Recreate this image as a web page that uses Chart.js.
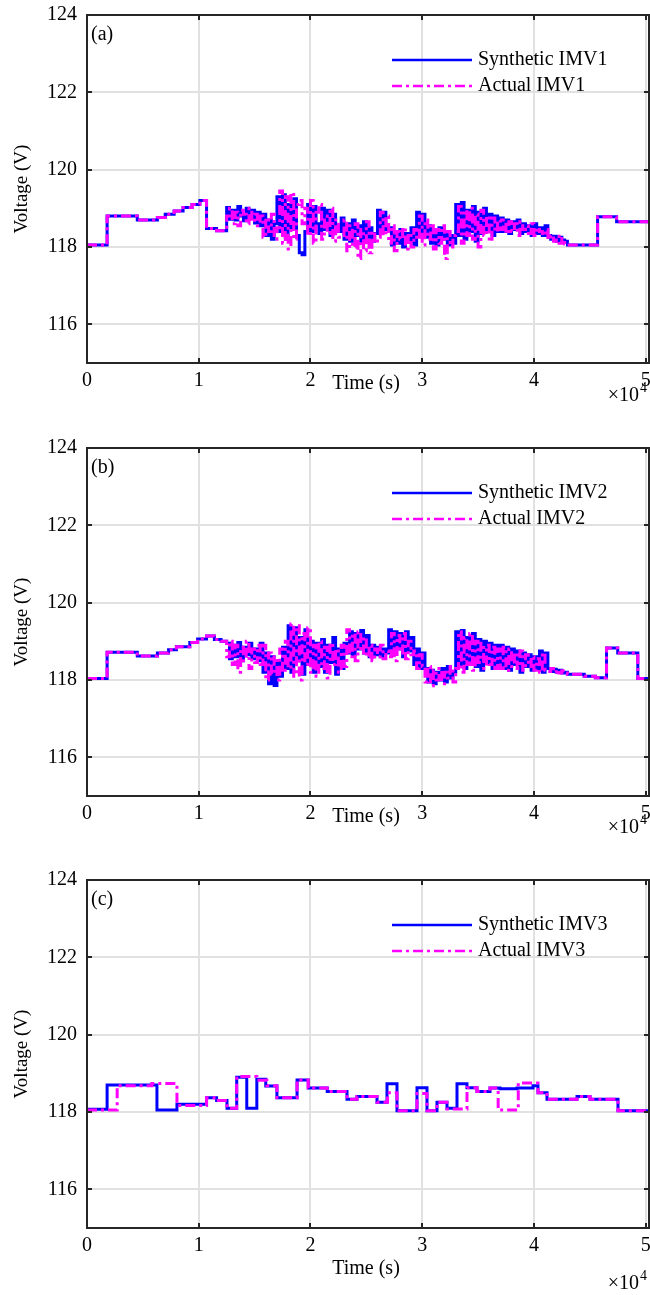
<!DOCTYPE html>
<html><head><meta charset="utf-8">
<script src="https://cdn.jsdelivr.net/npm/chart.js@4/dist/chart.umd.min.js"></script>
<style>
html,body{margin:0;padding:0;background:#fff;}
#wrap{position:relative;width:650px;height:1295px;background:#fff;}
canvas{position:absolute;left:0;}
</style></head><body>
<div id="wrap">
<canvas id="ca" width="650" height="431" style="top:0px"></canvas>
<canvas id="cb" width="650" height="431" style="top:433px"></canvas>
<canvas id="cc" width="650" height="430" style="top:865px"></canvas>
</div>
<script>
// ---------- axis ticks ----------
const xTickValues = [0, 10000, 20000, 30000, 40000, 50000];
const xTickLabels = ['0', '1', '2', '3', '4', '5'];
const yTickValues = [116, 118, 120, 122, 124];
const xMax = 50300;
const yMin = 115, yMax = 124;

// ---------- panel (a) ----------
const preTimesA = [0, 1800, 4500, 6300, 7000, 7800, 8600, 9400, 10100, 10700, 11600];
const preValsA  = [118.05, 118.80, 118.70, 118.76, 118.85, 118.93, 119.02, 119.10, 119.20, 118.48, 118.42];
const noisyStartA = 12500;
const sampleStepA = 250;
const synNoisyA = [
 119.02,118.72,118.95,118.70,119.05,118.80,118.68,119.00,118.75,118.95,118.62,118.90,
 118.55,118.85,118.30,118.70,118.20,118.60,
 119.30,118.40,119.35,118.25,119.10,118.50,119.25,118.30,
 117.85,117.80,118.40,
 119.10,118.40,119.05,118.60,118.35,119.00,118.45,118.95,118.30,118.85,118.55,118.40,
 118.75,118.20,118.60,118.15,118.70,118.30,118.55,118.10,118.65,118.25,118.50,118.15,118.35,
 118.95,118.40,118.90,118.45,
 118.50,118.05,118.40,118.10,118.45,118.00,118.35,118.15,118.50,118.05,
 118.90,118.30,118.85,118.25,
 118.55,118.10,118.45,118.05,118.50,118.20,118.40,118.05,118.30,118.10,
 119.10,118.30,119.15,118.20,118.95,118.40,119.05,118.15,118.90,118.35,119.00,118.45,118.85,118.30,118.80,118.40,
 118.75,118.40,118.70,118.35,118.65,118.45,118.70,118.35,118.60,118.40,118.55,118.30,118.60,118.35,118.50,118.30,118.55,
 118.30,118.20,118.28,118.15,118.25,118.18,118.15
];
const actNoisyA = [
 118.80,119.00,118.60,118.90,118.55,118.95,118.85,118.60,119.00,118.65,118.85,118.55,
 118.80,118.25,118.75,118.40,118.85,118.20,
 118.50,119.45,118.10,119.30,117.95,119.40,118.20,119.10,
 119.20,118.60,119.00,
 118.30,119.20,118.10,118.90,119.10,118.20,118.80,118.35,119.00,118.15,118.70,118.25,
 118.30,118.70,117.90,118.55,118.00,118.60,117.70,118.45,117.90,118.65,117.85,118.40,118.10,
 118.25,118.90,118.30,118.80,
 118.10,118.55,117.90,118.40,118.20,118.50,117.95,118.35,118.00,118.45,
 118.20,118.80,118.05,118.70,
 118.20,118.60,117.95,118.45,118.10,118.55,117.70,118.40,118.00,118.30,
 118.40,119.05,118.10,118.95,118.30,119.00,118.20,118.85,118.00,118.95,118.30,118.80,118.15,118.75,118.40,118.70,
 118.45,118.70,118.35,118.65,118.40,118.60,118.30,118.65,118.45,118.55,118.35,118.60,118.30,118.50,118.40,118.30,118.45,
 118.20,118.30,118.15,118.28,118.10,118.22,118.08
];
const postTimesA = [43000, 45700, 47400, 50300];
const postValsA  = [118.05, 118.78, 118.65, 118.65];

// ---------- panel (b) ----------
const preTimesB = [0, 1800, 4500, 6300, 7300, 8000, 9200, 9900, 10700, 11400, 12000];
const preValsB  = [118.04, 118.72, 118.62, 118.70, 118.78, 118.86, 118.97, 119.06, 119.14, 119.05, 119.00];
const noisyStartB = 12500;
const sampleStepB = 250;
const synNoisyB = [
 118.95,118.55,118.90,118.60,118.97,118.50,118.85,118.65,118.95,118.55,118.80,118.50,
 118.95,118.20,118.70,117.90,118.60,117.86,118.50,118.10,118.85,118.30,
 119.40,118.20,119.35,118.50,119.10,118.15,119.30,118.40,119.00,
 118.20,118.95,118.35,119.05,118.20,118.90,118.45,119.10,118.15,118.80,118.30,118.95,
 118.70,119.25,118.65,119.20,118.80,119.28,118.70,119.15,
 118.60,118.90,118.65,118.85,118.60,118.80,118.70,
 119.30,118.65,119.25,118.80,119.20,118.60,119.25,118.75,119.10,
 118.40,118.80,118.30,118.70,
 118.30,117.95,118.25,117.90,118.20,118.00,118.30,117.95,118.35,118.05,118.20,
 119.25,118.40,119.28,118.30,119.10,118.50,119.20,118.35,119.05,118.25,119.00,118.45,118.95,118.30,118.90,118.40,
 118.90,118.30,118.85,118.25,118.80,118.40,118.75,118.20,118.70,118.35,118.65,118.25,118.60,118.30,
 118.75,118.20,118.70,
 118.30,118.22,118.28,118.20,118.25,118.18,118.20
];
const actNoisyB = [
 118.60,119.00,118.40,118.90,118.20,118.85,118.50,119.00,118.30,118.80,118.45,118.90,
 118.40,118.90,118.00,118.70,118.15,118.60,118.00,118.80,118.20,119.00,
 118.30,119.45,118.10,119.40,118.00,119.20,118.40,119.35,118.20,
 118.90,118.10,119.00,118.30,118.85,118.05,118.95,118.40,118.80,118.20,118.90,118.35,
 119.30,118.60,119.20,118.50,119.25,118.70,119.10,118.60,
 118.90,118.50,118.80,118.60,118.90,118.55,118.75,
 118.60,119.20,118.50,119.15,118.70,119.20,118.55,119.00,118.65,
 118.75,118.30,118.65,118.35,
 117.95,118.35,117.85,118.25,118.00,118.30,117.90,118.20,118.05,118.35,117.95,
 118.30,119.25,118.20,119.10,118.40,119.20,118.25,119.00,118.45,118.95,118.30,118.90,118.40,118.85,118.30,118.80,
 118.30,118.85,118.25,118.80,118.35,118.70,118.30,118.75,118.25,118.65,118.35,118.60,118.25,118.55,
 118.20,118.70,118.25,
 118.22,118.30,118.20,118.26,118.18,118.24,118.18
];
const postTimesB = [43000, 44500, 45500, 46500, 47500, 49300, 50300];
const postValsB  = [118.15, 118.10, 118.06, 118.83, 118.70, 118.04, 118.04];

// ---------- panel (c) ----------
const synTimesC = [0, 1800, 6260, 8050, 10700, 11600, 12530, 13400, 14300, 15200, 16000, 17000, 18800, 19800, 21500, 23270, 24165, 25955, 26850, 27745, 29535, 30430, 31325, 32220, 33115, 34010, 34905, 36070, 36960, 38485, 39917, 40365, 41170, 43855, 45020, 47525, 50300];
const synValsC  = [118.07, 118.70, 118.05, 118.20, 118.37, 118.30, 118.10, 118.90, 118.10, 118.85, 118.67, 118.37, 118.83, 118.62, 118.53, 118.33, 118.40, 118.25, 118.73, 118.03, 118.63, 118.03, 118.25, 118.10, 118.73, 118.63, 118.53, 118.62, 118.60, 118.62, 118.68, 118.50, 118.33, 118.40, 118.33, 118.03, 118.03];
const actTimesC = [0, 2700, 5800, 8050, 10700, 11600, 12530, 13400, 15200, 16100, 17000, 18800, 19800, 21500, 23270, 24165, 25955, 26900, 27745, 29535, 30430, 31325, 32220, 34010, 34905, 36070, 36800, 38600, 40365, 41170, 43855, 45020, 47525, 50300];
const actValsC  = [118.05, 118.68, 118.74, 118.17, 118.37, 118.30, 118.10, 118.92, 118.82, 118.68, 118.37, 118.83, 118.62, 118.53, 118.33, 118.40, 118.25, 118.50, 118.03, 118.48, 118.03, 118.25, 118.08, 118.63, 118.53, 118.62, 118.05, 118.75, 118.50, 118.33, 118.40, 118.33, 118.03, 118.03];

// ---------- builders ----------
function pts(times, vals) { return times.map((t, i) => ({x: t, y: vals[i]})); }
function noisy(start, step, vals) { return vals.map((v, i) => ({x: start + i * step, y: v})); }

const FONT = '"Liberation Serif", "Times New Roman", serif';
const BLUE = '#0000ff', MAG = '#ff00ff';

const decor = {
  id: 'decor',
  afterDraw(chart, args, o) {
    const {ctx, chartArea: a, scales: {x, y}} = chart;
    ctx.save();
    ctx.strokeStyle = '#262626';
    ctx.lineWidth = 2;
    ctx.beginPath();
    xTickValues.forEach(v => {
      const p = Math.round(x.getPixelForValue(v));
      ctx.moveTo(p, a.bottom); ctx.lineTo(p, a.bottom - 5);
      ctx.moveTo(p, a.top); ctx.lineTo(p, a.top + 5);
    });
    yTickValues.forEach(v => {
      const p = Math.round(y.getPixelForValue(v));
      ctx.moveTo(a.left, p); ctx.lineTo(a.left + 5, p);
      ctx.moveTo(a.right, p); ctx.lineTo(a.right - 5, p);
    });
    ctx.stroke();
    ctx.strokeRect(a.left, a.top, a.right - a.left, a.bottom - a.top);

    // legend
    ctx.lineWidth = 2.5;
    const lx0 = a.right - 257, lx1 = a.right - 177;
    ctx.strokeStyle = BLUE; ctx.setLineDash([]);
    ctx.beginPath(); ctx.moveTo(lx0, a.top + 45); ctx.lineTo(lx1, a.top + 45); ctx.stroke();
    ctx.strokeStyle = MAG; ctx.setLineDash([10, 4, 3, 4]);
    ctx.beginPath(); ctx.moveTo(lx0, a.top + 71); ctx.lineTo(lx1, a.top + 71); ctx.stroke();
    ctx.setLineDash([]);
    ctx.fillStyle = '#000';
    ctx.font = '20px ' + FONT;
    ctx.textBaseline = 'middle'; ctx.textAlign = 'left';
    ctx.fillText(o.synLabel, a.right - 171, a.top + 45);
    ctx.fillText(o.actLabel, a.right - 171, a.top + 71);

    // panel label
    ctx.fillText(o.panel, a.left + 4, a.top + 20);

    // x title
    ctx.textAlign = 'center';
    ctx.fillText('Time (s)', 366, a.bottom + o.titleDy);
    // x10^4
    ctx.textAlign = 'left';
    const base = '\u00d710';
    const w = ctx.measureText(base).width;
    const ex0 = 647 - w - 8;
    ctx.fillText(base, ex0, a.bottom + o.expDy);
    ctx.font = '14px ' + FONT;
    ctx.fillText('4', ex0 + w + 1, a.bottom + o.expDy - 8);

    // y title
    ctx.font = '19px ' + FONT;
    ctx.translate(22, (a.top + a.bottom) / 2);
    ctx.rotate(-Math.PI / 2);
    ctx.textAlign = 'center';
    ctx.fillText('Voltage (V)', 0, 0);
    ctx.restore();
  }
};

function makeChart(id, canvasH, synData, actData, o) {
  const ctx = document.getElementById(id);
  return new Chart(ctx, {
    type: 'line',
    data: {
      datasets: [
        {label: o.actLabel, data: actData, borderColor: MAG, borderWidth: 3, borderDash: [10, 4, 3, 4],
         stepped: true, pointRadius: 0, fill: false, order: 0},
        {label: o.synLabel, data: synData, borderColor: BLUE, borderWidth: 3,
         stepped: true, pointRadius: 0, fill: false, order: 1}
      ]
    },
    options: {
      responsive: false, animation: false, devicePixelRatio: 1,
      layout: {padding: {top: 15, right: 1, left: 0, bottom: 0}},
      plugins: {legend: {display: false}, tooltip: {enabled: false}, decor: o},
      scales: {
        x: {
          type: 'linear', min: 0, max: xMax,
          afterBuildTicks: s => { s.ticks = xTickValues.map(v => ({value: v})); },
          afterFit: s => { s.height = canvasH - 15 - 348; s.paddingLeft = 0; s.paddingRight = 0; },
          grid: {color: '#e1e1e1', lineWidth: 2, drawTicks: false},
          border: {display: false},
          ticks: {padding: 6, color: '#000', font: {family: FONT, size: 20},
                  maxRotation: 0, autoSkip: false,
                  callback: v => xTickLabels[xTickValues.indexOf(v)]}
        },
        y: {
          min: yMin, max: yMax,
          afterBuildTicks: s => { s.ticks = yTickValues.map(v => ({value: v})); },
          afterFit: s => { s.width = 87; s.paddingTop = 0; s.paddingBottom = 0; },
          grid: {color: '#e1e1e1', lineWidth: 2, drawTicks: false},
          border: {display: false},
          ticks: {padding: 10, color: '#000', font: {family: FONT, size: 20}}
        }
      }
    },
    plugins: [decor]
  });
}

const synA = pts(preTimesA, preValsA).concat(noisy(noisyStartA, sampleStepA, synNoisyA), pts(postTimesA, postValsA));
const actA = pts(preTimesA, preValsA).concat(noisy(noisyStartA, sampleStepA, actNoisyA), pts(postTimesA, postValsA));
const synB = pts(preTimesB, preValsB).concat(noisy(noisyStartB, sampleStepB, synNoisyB), pts(postTimesB, postValsB));
const actB = pts(preTimesB, preValsB).concat(noisy(noisyStartB, sampleStepB, actNoisyB), pts(postTimesB, postValsB));
const synC = pts(synTimesC, synValsC);
const actC = pts(actTimesC, actValsC);

makeChart('ca', 431, synA, actA, {panel: '(a)', synLabel: 'Synthetic IMV1', actLabel: 'Actual IMV1', titleDy: 21, expDy: 33});
makeChart('cb', 431, synB, actB, {panel: '(b)', synLabel: 'Synthetic IMV2', actLabel: 'Actual IMV2', titleDy: 21, expDy: 32});
makeChart('cc', 430, synC, actC, {panel: '(c)', synLabel: 'Synthetic IMV3', actLabel: 'Actual IMV3', titleDy: 41, expDy: 56});
</script>
</body></html>
